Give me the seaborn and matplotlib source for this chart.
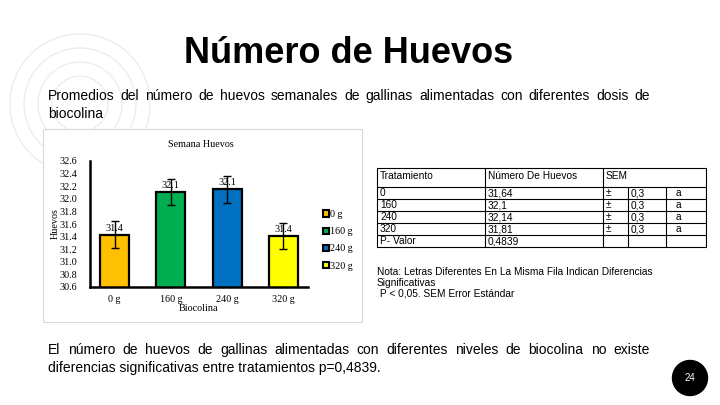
import pandas as pd
import matplotlib
matplotlib.use("Agg")
import matplotlib.pyplot as plt
import seaborn as sns
from matplotlib.patches import Rectangle, Circle, Ellipse

# data
dosis = ["0 g", "160 g", "240 g", "320 g"]
huevos = [31.43, 32.11, 32.15, 31.41]
error = [0.21, 0.21, 0.21, 0.21]
etiquetas = ["31.4", "32.1", "32.1", "31.4"]
colores = ["#FFC000", "#00B050", "#0070C0", "#FFFF00"]

tratamiento = ["0", "160", "240", "320"]
media = ["31,64", "32,1", "32,14", "31,81"]
sem = ["0,3", "0,3", "0,3", "0,3"]
letra = ["a", "a", "a", "a"]
p_valor = "0,4839"

sns.set_style("white")
plt.rcParams["font.family"] = ["Liberation Sans", "DejaVu Sans"]
plt.rcParams["text.color"] = "black"
plt.rcParams["axes.labelcolor"] = "black"
plt.rcParams["xtick.color"] = "black"
plt.rcParams["ytick.color"] = "black"

W, H = 720, 405
fig = plt.figure(figsize=(7.2, 4.05), dpi=100)

# background layer in pixel coordinates
bg = fig.add_axes([0, 0, 1, 1], zorder=0)
bg.set_xlim(0, W)
bg.set_ylim(H, 0)
bg.axis("off")

# faint decorative circles, top left
for r in [70, 56, 42, 28]:
    bg.add_patch(Circle((80, 104), r, fill=False, ec="#e8e8e8", lw=0.8))

# white chart box
bg.add_patch(Rectangle((43, 129), 319, 193, fc="white", ec="#d9d9d9", lw=0.8, zorder=2))

bg.text(349, 63, "Número de Huevos", fontsize=26, fontweight="bold",
        ha="center", va="baseline")


def justified(ax, x0, x1, y, text, size):
    words = text.split()
    r = fig.canvas.get_renderer()
    arts = [ax.text(0, y, w, fontsize=size, va="baseline", ha="left") for w in words]
    inv = ax.transData.inverted()
    widths = []
    for a in arts:
        bb = a.get_window_extent(renderer=r)
        p0 = inv.transform((bb.x0, bb.y0))
        p1 = inv.transform((bb.x1, bb.y0))
        widths.append(p1[0] - p0[0])
    gap = (x1 - x0 - sum(widths)) / (len(words) - 1)
    x = x0
    for a, w in zip(arts, widths):
        a.set_x(x)
        x += w + gap


sub1 = "Promedios del número de huevos semanales de gallinas alimentadas con diferentes dosis de"
justified(bg, 48, 650, 100, sub1, 10)
bg.text(48, 118, "biocolina", fontsize=10, va="baseline")

fin1 = "El número de huevos de gallinas alimentadas con diferentes niveles de biocolina no existe"
justified(bg, 48, 650, 354, fin1, 10)
bg.text(48, 372, "diferencias significativas entre tratamientos p=0,4839.", fontsize=10,
        va="baseline")

# page number
bg.add_patch(Ellipse((690, 378), 35, 35, fc="black", ec="black"))
bg.text(690, 378, "24", color="white", fontsize=7, ha="center", va="center")

# table
cols = [377, 485, 603, 628, 666, 706]
top, head_bot, row_h = 168, 187, 12
bot = head_bot + 5 * row_h
lk = dict(color="black", lw=0.8)
bg.plot([cols[0], cols[-1]], [top, top], **lk)
for i in range(6):
    yy = head_bot + i * row_h
    bg.plot([cols[0], cols[-1]], [yy, yy], **lk)
for c in [cols[0], cols[1], cols[2], cols[-1]]:
    bg.plot([c, c], [top, bot], **lk)
for c in [cols[3], cols[4]]:
    bg.plot([c, c], [head_bot, bot], **lk)

tk = dict(fontsize=7.3, va="center", ha="left")
bg.text(cols[0] + 3, 176, "Tratamiento", **tk)
bg.text(cols[1] + 3, 176, "Número De Huevos", **tk)
bg.text(cols[2] + 3, 176, "SEM", **tk)
for i in range(4):
    yc = head_bot + i * row_h + row_h / 2
    bg.text(cols[0] + 3, yc, tratamiento[i], **tk)
    bg.text(cols[1] + 3, yc, media[i], **tk)
    bg.text(cols[2] + 3, yc, "±", **tk)
    bg.text(cols[3] + 3, yc, sem[i], **tk)
    bg.text(cols[4] + 10, yc, letra[i], **tk)
yc = head_bot + 4 * row_h + row_h / 2
bg.text(cols[0] + 3, yc, "P- Valor", **tk)
bg.text(cols[1] + 3, yc, p_valor, **tk)

bg.text(377, 272, "Nota: Letras Diferentes En La Misma Fila Indican Diferencias", fontsize=7.3,
        va="center")
bg.text(377, 283, "Significativas", fontsize=7.3, va="center")
bg.text(377, 294, " P < 0,05. SEM Error Estándar", fontsize=7.3, va="center")

# bar chart
ax = fig.add_axes([90 / W, (H - 287) / H, 218 / W, 126 / H], zorder=3)
ax.patch.set_alpha(0)
df = pd.DataFrame({"Biocolina": dosis, "Huevos": huevos})
sns.barplot(data=df, x="Biocolina", y="Huevos", hue="Biocolina", palette=colores,
            saturation=1, edgecolor="black", linewidth=1.6, width=0.52, ax=ax, legend=True)
ax.errorbar(range(len(dosis)), huevos, yerr=error, fmt="none", ecolor="black",
            elinewidth=1, capsize=3, capthick=1, zorder=5)
for cont, lab in zip(ax.containers, etiquetas):
    ax.bar_label(cont, labels=[lab], padding=1.5, fontsize=7.3, family="Liberation Serif")

ax.set_ylim(30.6, 32.6)
ax.set_yticks([30.6 + 0.2 * i for i in range(11)])
ax.set_yticklabels([f"{30.6 + 0.2 * i:.1f}" for i in range(11)])
for s in ["top", "right"]:
    ax.spines[s].set_visible(False)
for s in ["left", "bottom"]:
    ax.spines[s].set_color("black")
    ax.spines[s].set_linewidth(1.8)
ax.tick_params(axis="y", length=0, pad=9, labelsize=7.3)
ax.tick_params(axis="x", length=0, pad=6, labelsize=7.3)
for t in ax.get_xticklabels() + ax.get_yticklabels():
    t.set_family("Liberation Serif")
ax.set_xlabel("Biocolina", fontsize=7.3, family="Liberation Serif", labelpad=0)
ax.set_ylabel("Huevos", fontsize=7.3, family="Liberation Serif", labelpad=0)
ax.set_title("Semana Huevos", fontsize=7.3, family="Liberation Serif", x=0.51, pad=10)

sns.move_legend(ax, loc="center left", bbox_to_anchor=(1.07, 0.37), frameon=False,
                title=None, handlelength=0.6, handleheight=0.6,
                handletextpad=0.1, labelspacing=0.8, borderpad=0, borderaxespad=0,
                prop={"family": "Liberation Serif", "size": 7.3})
for h in ax.get_legend().legend_handles:
    h.set_edgecolor("black")
    h.set_linewidth(1.5)

fig.savefig("out.png", dpi=100)
